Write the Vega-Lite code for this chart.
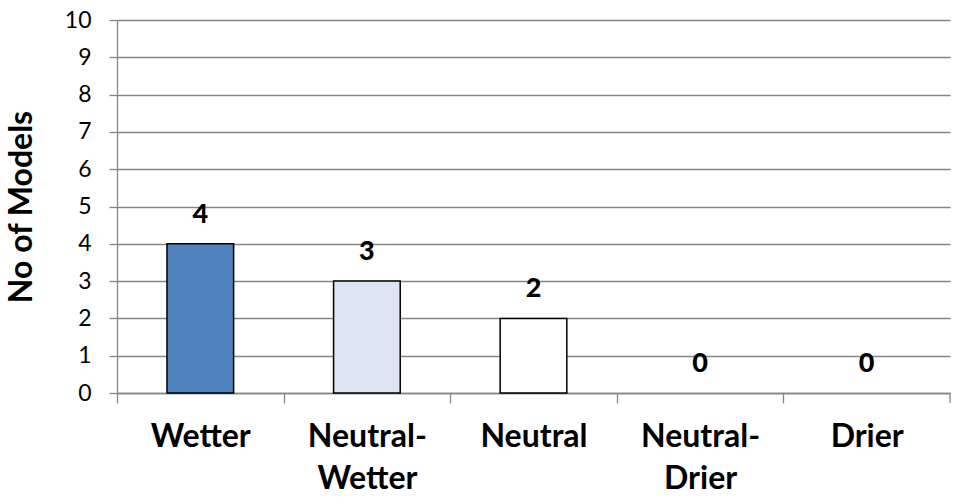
{
  "$schema": "https://vega.github.io/schema/vega-lite/v6.json",
  "width": 833,
  "height": 373,
  "autosize": {"type": "none"},
  "padding": {"left": 117, "top": 20, "right": 10, "bottom": 111},
  "background": "white",
  "config": {"view": {"stroke": null}, "font": "Lato"},
  "data": {"values": [
    {"category": "Wetter", "models": 4},
    {"category": "Neutral-Wetter", "models": 3},
    {"category": "Neutral", "models": 2},
    {"category": "Neutral-Drier", "models": 0},
    {"category": "Drier", "models": 0}
  ]},
  "encoding": {
    "x": {
      "field": "category", "type": "nominal", "sort": null,
      "scale": {"paddingInner": 0.6, "paddingOuter": 0.3},
      "axis": {
        "title": null, "labelAngle": 0, "bandPosition": 0.5,
        "tickOffset": -83.3, "labelOffset": 83.3,
        "domainColor": "#868686", "domainWidth": 1.3,
        "tickColor": "#868686", "tickWidth": 1.3, "tickSize": 10,
        "labelFont": "Lato", "labelFontSize": 32, "labelFontWeight": "bold", "labelColor": "black",
        "labelPadding": 18, "labelLineHeight": 42, "labelBaseline": "top", "labelOverlap": false,
        "labelExpr": "indexof(datum.label,'-')>0 ? [slice(datum.label,0,indexof(datum.label,'-')+1), slice(datum.label,indexof(datum.label,'-')+1)] : datum.label"
      }
    },
    "y": {
      "field": "models", "type": "quantitative",
      "scale": {"domain": [0, 10], "nice": false},
      "axis": {
        "title": "No of Models", "titleFont": "Lato", "titleFontSize": 32, "titleFontWeight": "bold", "titleColor": "black",
        "titlePadding": 26,
        "values": [0,1,2,3,4,5,6,7,8,9,10], "labelOverlap": false,
        "grid": true, "gridColor": "#868686", "gridWidth": 1.3,
        "domainColor": "#868686", "domainWidth": 1.3,
        "tickColor": "#868686", "tickWidth": 1.3, "tickSize": 8,
        "labelFont": "Lato", "labelFontSize": 23, "labelColor": "black", "labelPadding": 18
      }
    }
  },
  "layer": [
    {
      "mark": {"type": "bar", "stroke": "black"},
      "encoding": {
        "fill": {
          "field": "category", "type": "nominal", "legend": null,
          "scale": {"domain": ["Wetter", "Neutral-Wetter", "Neutral", "Neutral-Drier", "Drier"],
                    "range": ["#4F81BD", "#DCE6F2", "#FFFFFF", "#FFFFFF", "#FFFFFF"]}
        },
        "strokeWidth": {"condition": {"test": "datum.models == 0", "value": 0}, "value": 1.5}
      }
    },
    {
      "mark": {"type": "text", "baseline": "bottom", "dy": -15, "font": "Lato", "fontSize": 27, "fontWeight": 900, "color": "black"},
      "encoding": {"text": {"field": "models", "type": "quantitative"}}
    },
    {
      "data": {"values": [{"category": "Drier", "from": 0, "to": -0.27}]},
      "mark": {"type": "rule", "color": "#868686", "strokeWidth": 1.3},
      "encoding": {
        "x": {"field": "category", "type": "nominal", "bandPosition": 1.75},
        "y": {"field": "from", "type": "quantitative"},
        "y2": {"field": "to"}
      }
    }
  ]
}
